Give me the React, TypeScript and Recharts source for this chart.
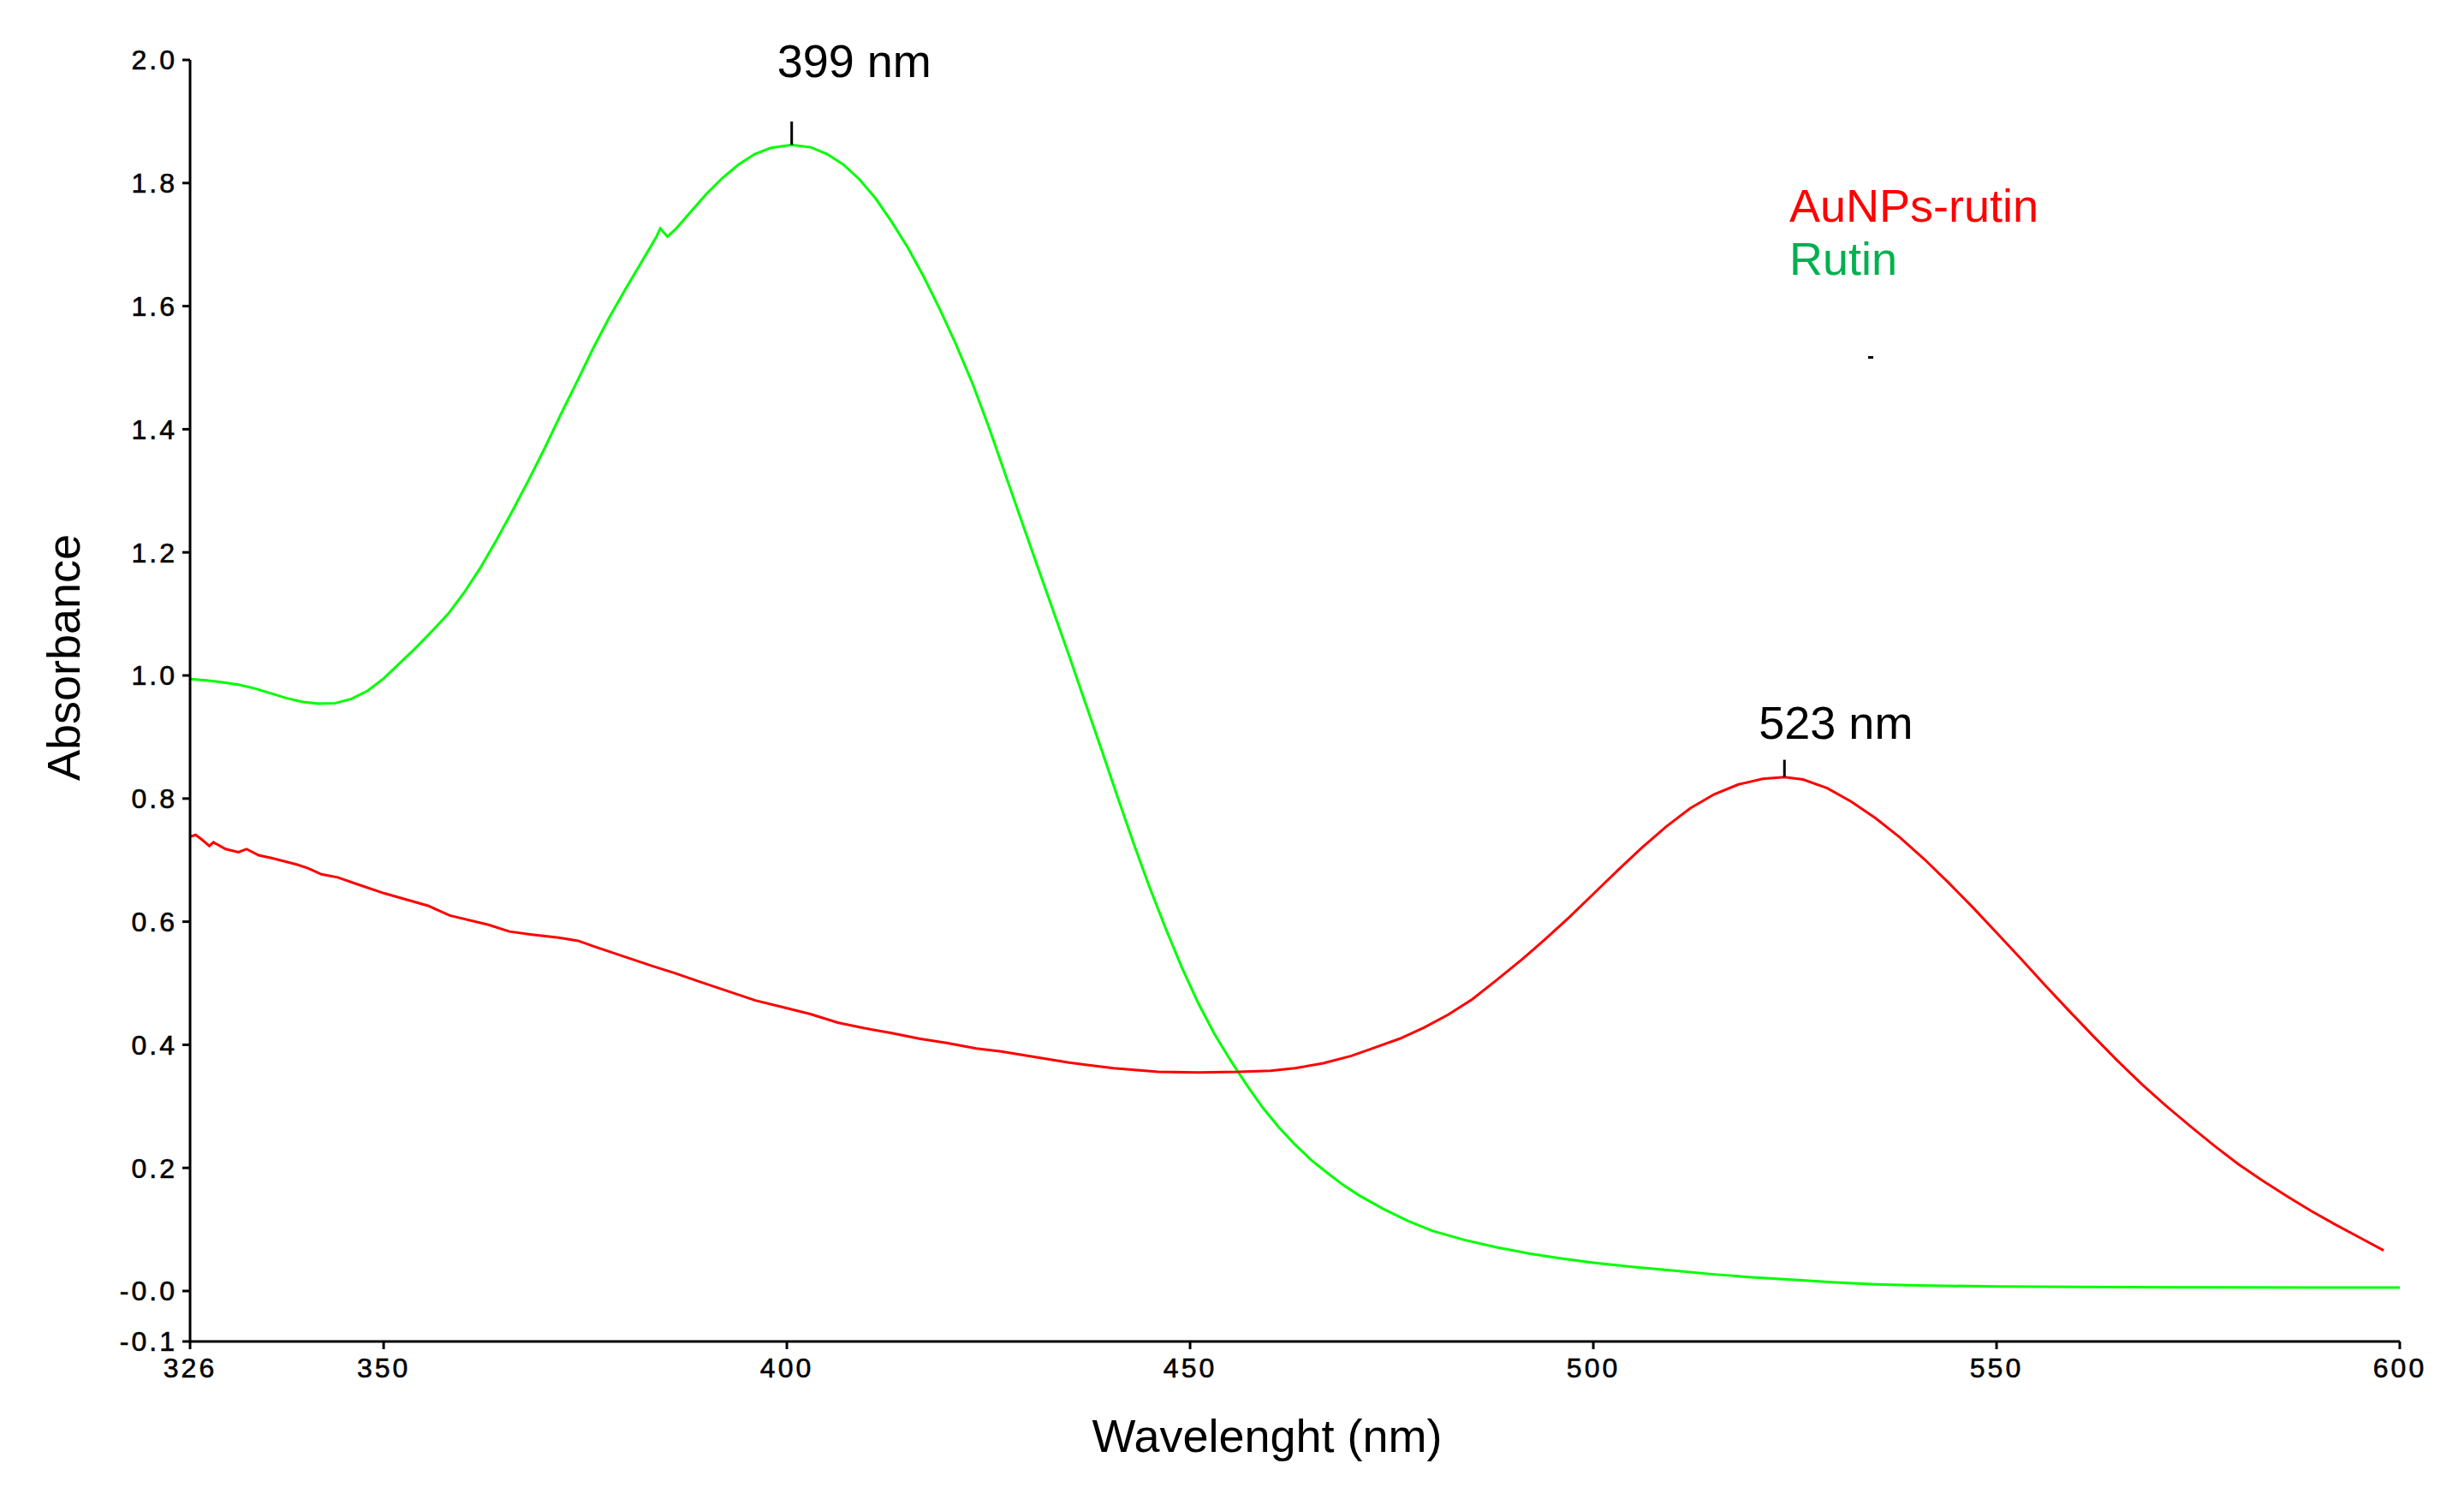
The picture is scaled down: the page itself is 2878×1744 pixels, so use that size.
import React from 'react';
import { LineChart, Line, XAxis, YAxis, ReferenceLine } from 'recharts';

// Rutin spectrum (green)
const rutinNm = [
  326, 328, 330, 332, 334, 336, 338, 340, 342, 344, 346, 348, 350, 352, 354, 356, 358, 360,
  362, 364, 366, 368, 370, 372, 374, 376, 378, 380, 382, 383.8, 384.3, 385.2, 386.2, 388, 390,
  392, 394, 396, 398, 400.6, 403, 405, 407, 409, 411, 413, 415, 417, 419, 421, 423, 425, 427,
  429, 431, 433, 435, 437, 439, 441, 443, 445, 447, 449, 451, 453, 455, 457, 459, 461, 463,
  465, 467, 469, 471, 474, 477, 480, 484, 488, 492, 496, 500, 505, 510, 515, 520, 525, 530,
  535, 540, 550, 560, 575, 590, 600,
];
const rutinAbs = [
  0.994, 0.992, 0.989, 0.985, 0.979, 0.971, 0.963, 0.957, 0.954, 0.955, 0.962, 0.975, 0.995,
  1.02, 1.045, 1.072, 1.1, 1.135, 1.175, 1.22, 1.268, 1.318, 1.37, 1.425, 1.478, 1.532, 1.582,
  1.628, 1.672, 1.712, 1.726, 1.713, 1.725, 1.752, 1.782, 1.808, 1.83, 1.847, 1.857, 1.862,
  1.858, 1.847, 1.83, 1.806, 1.775, 1.737, 1.695, 1.647, 1.594, 1.537, 1.475, 1.405, 1.33,
  1.255, 1.18, 1.106, 1.032, 0.956, 0.88, 0.803, 0.727, 0.655, 0.588, 0.525, 0.468, 0.418,
  0.375, 0.335, 0.298, 0.266, 0.238, 0.213, 0.192, 0.172, 0.155, 0.133, 0.114, 0.098, 0.083,
  0.071, 0.061, 0.053, 0.046, 0.039, 0.033, 0.027, 0.022, 0.018, 0.014, 0.011, 0.009, 0.0075,
  0.0065, 0.006, 0.0055, 0.0055,
];

// AuNPs-rutin spectrum (red)
const aunpNm = [
  326, 326.7, 327.4, 328.4, 328.9, 330.4, 332, 333, 334.5, 336.2, 339.2, 340.6, 342.3, 344.3,
  346.7, 350.1, 352.8, 355.5, 358.2, 363, 365.6, 368.4, 371.7, 374.1, 376.5, 379.9, 383.3, 386,
  389.3, 392.7, 396.1, 399.5, 402.9, 406.3, 409.6, 413, 416.4, 419.8, 423.5, 426.6, 429.5, 435,
  440.5, 446, 451, 456, 460, 463, 466.5, 470, 473, 476, 479, 482, 485, 488, 491, 494, 497, 500,
  503, 506, 509, 512, 515, 518, 521, 523.7, 526, 529, 532, 535, 538, 541, 544, 547, 550, 553,
  556, 559, 562, 565, 568, 571, 574, 577, 580, 583, 586, 589, 592, 595, 598,
];
const aunpAbs = [
  0.738, 0.741, 0.734, 0.723, 0.729, 0.718, 0.713, 0.718, 0.708, 0.703, 0.693, 0.687, 0.677,
  0.672, 0.661, 0.646, 0.636, 0.626, 0.61, 0.595, 0.584, 0.579, 0.574, 0.569, 0.558, 0.543,
  0.528, 0.517, 0.502, 0.487, 0.472, 0.461, 0.45, 0.436, 0.427, 0.419, 0.41, 0.403, 0.394,
  0.389, 0.383, 0.371, 0.362, 0.356, 0.355, 0.356, 0.358, 0.362, 0.37, 0.382, 0.396, 0.41,
  0.428, 0.449, 0.474, 0.505, 0.537, 0.571, 0.607, 0.645, 0.683, 0.72, 0.754, 0.784, 0.807,
  0.823, 0.832, 0.835, 0.831, 0.817, 0.795, 0.768, 0.737, 0.702, 0.664, 0.624, 0.582, 0.54,
  0.497, 0.455, 0.414, 0.374, 0.336, 0.301, 0.268, 0.236, 0.206, 0.179, 0.154, 0.13, 0.108,
  0.087, 0.066,
];

// peak annotations
const peakNm = [400.6, 523.7];
const peakAbs = [1.862, 0.835];
const peakMarkTop = [1.9, 0.863];
const peakLabels = ['399 nm', '523 nm'];

const xTicks = [326, 350, 400, 450, 500, 550, 600];
const yTicks = [-0.082, 0, 0.2, 0.4, 0.6, 0.8, 1.0, 1.2, 1.4, 1.6, 1.8, 2.0];
const yTickLabels = ['-0.1', '-0.0', '0.2', '0.4', '0.6', '0.8', '1.0', '1.2', '1.4', '1.6', '1.8', '2.0'];

const rutinData = rutinNm.map((nm, i) => ({ nm, abs: rutinAbs[i] }));
const aunpData = aunpNm.map((nm, i) => ({ nm, abs: aunpAbs[i] }));

const FONT = '"Liberation Sans", Arial, sans-serif';
const labelOffsets = [
  { dx: -17, dy: -52 },
  { dx: -30, dy: -25 },
];

const tickStyle = {
  fill: '#000',
  fontSize: 32,
  fontFamily: FONT,
  letterSpacing: 3,
  stroke: '#000',
  strokeWidth: 0.6,
};

const PeakLabel = (props: any) => {
  const { viewBox, text, dx, dy } = props;
  if (!viewBox) return null;
  return (
    <text x={viewBox.x + dx} y={viewBox.y + dy} fontSize={54} fontFamily={FONT} fill="#000">
      {text}
    </text>
  );
};

export default function App() {
  return (
    <div style={{ position: 'absolute', left: 0, top: 0, width: 2878, height: 1744, background: '#fff' }}>
      <LineChart width={2878} height={1744} margin={{ top: 70, right: 75, bottom: 97, left: 102 }}>
        <XAxis
          dataKey="nm"
          type="number"
          domain={[326, 600]}
          ticks={xTicks}
          interval={0}
          allowDataOverflow
          height={80}
          tickSize={9}
          tickMargin={10}
          axisLine={{ stroke: '#000', strokeWidth: 3 }}
          tickLine={{ stroke: '#000', strokeWidth: 3 }}
          tick={tickStyle}
        />
        <YAxis
          type="number"
          domain={[-0.082, 2]}
          ticks={yTicks}
          interval={0}
          allowDataOverflow
          width={120}
          tickSize={9}
          tickMargin={6}
          axisLine={{ stroke: '#000', strokeWidth: 3 }}
          tickLine={{ stroke: '#000', strokeWidth: 3 }}
          tick={tickStyle}
          tickFormatter={(v: number) => yTickLabels[yTicks.indexOf(v)] ?? String(v)}
        />
        <Line
          data={rutinData}
          dataKey="abs"
          type="linear"
          stroke="#00ff00"
          strokeWidth={3}
          dot={false}
          isAnimationActive={false}
        />
        <Line
          data={aunpData}
          dataKey="abs"
          type="linear"
          stroke="#ff0000"
          strokeWidth={3}
          dot={false}
          isAnimationActive={false}
        />
        {peakNm.map((nm, i) => (
          <ReferenceLine
            key={nm}
            segment={[
              { x: nm, y: peakAbs[i] },
              { x: nm, y: peakMarkTop[i] },
            ]}
            stroke="#000"
            strokeWidth={3}
            label={<PeakLabel text={peakLabels[i]} dx={labelOffsets[i].dx} dy={labelOffsets[i].dy} />}
          />
        ))}
      </LineChart>
      <svg
        width={2878}
        height={1744}
        style={{ position: 'absolute', left: 0, top: 0, pointerEvents: 'none' }}
        fontFamily={FONT}
      >
        <text x={93} y={768} fontSize={54} textAnchor="middle" transform="rotate(-90 93 768)" fill="#000">
          Absorbance
        </text>
        <text x={1480} y={1696} fontSize={54} textAnchor="middle" fill="#000">
          Wavelenght (nm)
        </text>
        <text x={2090} y={259} fontSize={54} fill="#ff0000">
          AuNPs-rutin
        </text>
        <text x={2090} y={321} fontSize={54} fill="#00b050">
          Rutin
        </text>
        <rect x={2182} y={416} width={6} height={3} fill="#000" />
      </svg>
    </div>
  );
}
